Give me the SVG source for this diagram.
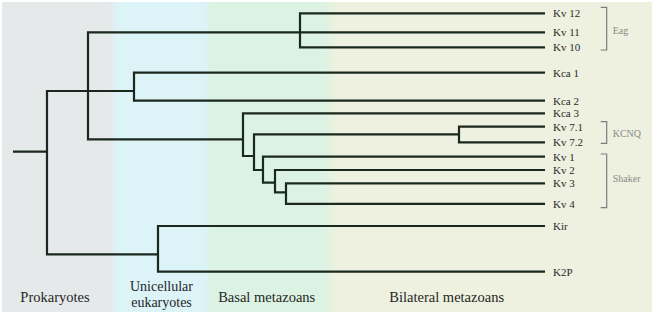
<svg xmlns="http://www.w3.org/2000/svg" width="654" height="315" viewBox="0 0 654 315">
<style>
.br{fill:none;stroke:#1a281d;stroke-width:2.2;stroke-linejoin:miter;stroke-linecap:butt}
.bk{fill:none;stroke:#7d7d7d;stroke-width:1.2}
.lf{font-family:"Liberation Serif","DejaVu Serif",serif;font-size:11px;fill:#2a2a2a}
.gp{font-family:"Liberation Serif","DejaVu Serif",serif;font-size:10px;fill:#8a8a8a}
.rg{font-family:"Liberation Serif","DejaVu Serif",serif;font-size:14.5px;fill:#262626;text-anchor:middle}
.rg2{font-size:14px}
</style>
<defs>
<linearGradient id="bg" x1="0" y1="0" x2="1" y2="0">
<stop offset="0" stop-color="#e6e9e9"/>
<stop offset="0.166" stop-color="#e6e9e9"/>
<stop offset="0.178" stop-color="#dcf3f8"/>
<stop offset="0.311" stop-color="#dcf3f8"/>
<stop offset="0.322" stop-color="#dcf2e3"/>
<stop offset="0.492" stop-color="#dcf2e3"/>
<stop offset="0.515" stop-color="#eef1df"/>
<stop offset="1" stop-color="#eef1df"/>
</linearGradient>
</defs>
<rect width="654" height="315" fill="#ffffff"/>
<rect id="panel" x="2" y="2" width="650" height="310" fill="url(#bg)"/>

<g id="regions">
<text id="prokaryotes" class="rg" x="55" y="301.5">Prokaryotes</text>
<text id="unicellular" class="rg rg2" x="161.5" y="290.5">Unicellular</text>
<text id="eukaryotes" class="rg rg2" x="161.5" y="306.6">eukaryotes</text>
<text id="basal" class="rg" x="266.7" y="301.5">Basal metazoans</text>
<text id="bilateral" class="rg" x="446.7" y="301.5">Bilateral metazoans</text>
</g>

<g id="connectors">
<path class="br" d="M13,151.7 H47"/>
<path class="br" d="M88,91 H47 V254.3 H158"/>
<path class="br" d="M300,32.3 H88 V139.3 H243 M88,91 H134"/>
<path class="br" d="M545,13.3 H300 V47.3 H545 M300,32.3 H545"/>
<path class="br" d="M545,72.7 H134 V100.7 H545"/>
<path class="br" d="M545,113.3 H243 V156 H254"/>
<path class="br" d="M459,134.3 H254 V170 H263"/>
<path class="br" d="M545,126.7 H459 V142.3 H545"/>
<path class="br" d="M545,156.7 H263 V182.7 H275"/>
<path class="br" d="M545,170 H275 V192.3 H286"/>
<path class="br" d="M545,183.3 H286 V203.8 H545"/>
<path class="br" d="M545,226 H158 V271.7 H545"/>
</g>

<g id="brackets">
<path class="bk" d="M600.7,7.3 H606.7 V50 H600.7"/>
<path class="bk" d="M600.7,121.7 H606.7 V143.3 H600.7"/>
<path class="bk" d="M600.7,154 H606.7 V207.7 H600.7"/>
</g>

<g id="kv12"><text class="lf" x="553" y="17.3">Kv 12</text></g>
<g id="kv11"><text class="lf" x="553" y="36.3">Kv 11</text></g>
<g id="kv10"><text class="lf" x="553" y="51.3">Kv 10</text></g>
<g id="kca1"><text class="lf" x="553" y="76.7">Kca 1</text></g>
<g id="kca2"><text class="lf" x="553" y="104.7">Kca 2</text></g>
<g id="kca3"><text class="lf" x="553" y="117.3">Kca 3</text></g>
<g id="kv71"><text class="lf" x="553" y="130.7">Kv 7.1</text></g>
<g id="kv72"><text class="lf" x="553" y="146.3">Kv 7.2</text></g>
<g id="kv1"><text class="lf" x="553" y="160.7">Kv 1</text></g>
<g id="kv2"><text class="lf" x="553" y="174">Kv 2</text></g>
<g id="kv3"><text class="lf" x="553" y="187.3">Kv 3</text></g>
<g id="kv4"><text class="lf" x="553" y="207.8">Kv 4</text></g>
<g id="kir"><text class="lf" x="553" y="230">Kir</text></g>
<g id="k2p"><text class="lf" x="553" y="275.7">K2P</text></g>

<g id="eag"><text class="gp" x="612.7" y="33.5">Eag</text></g>
<g id="kcnq"><text class="gp" x="612.7" y="137">KCNQ</text></g>
<g id="shaker"><text class="gp" x="612.7" y="182">Shaker</text></g>
</svg>
